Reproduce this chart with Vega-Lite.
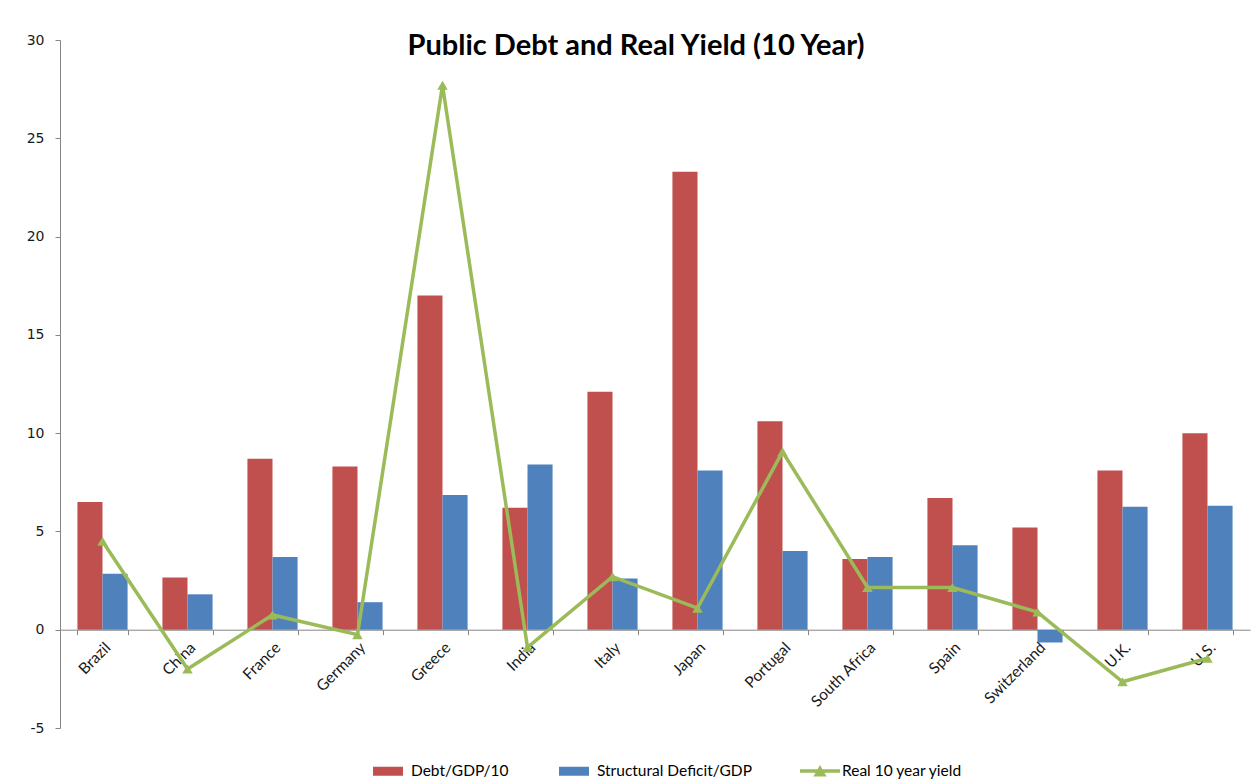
{
  "$schema": "https://vega.github.io/schema/vega-lite/v6.json",
  "width": 1190,
  "height": 688,
  "autosize": {"type": "none"},
  "padding": {"left": 60, "top": 40, "right": 1, "bottom": 55},
  "background": "white",
  "title": {"text": "Public Debt and Real Yield (10 Year)", "font": "Lato", "fontSize": 29, "fontWeight": "bold", "color": "#000000", "anchor": "middle", "offset": -51, "baseline": "alphabetic", "dx": -19},
  "config": {"view": {"stroke": null}},
  "datasets": {
    "bars": [
      {"country": "Brazil", "series": "Debt/GDP/10", "value": 6.5},
      {"country": "Brazil", "series": "Structural Deficit/GDP", "value": 2.85},
      {"country": "China", "series": "Debt/GDP/10", "value": 2.65},
      {"country": "China", "series": "Structural Deficit/GDP", "value": 1.8},
      {"country": "France", "series": "Debt/GDP/10", "value": 8.7},
      {"country": "France", "series": "Structural Deficit/GDP", "value": 3.7},
      {"country": "Germany", "series": "Debt/GDP/10", "value": 8.3},
      {"country": "Germany", "series": "Structural Deficit/GDP", "value": 1.4},
      {"country": "Greece", "series": "Debt/GDP/10", "value": 17.0},
      {"country": "Greece", "series": "Structural Deficit/GDP", "value": 6.85},
      {"country": "India", "series": "Debt/GDP/10", "value": 6.2},
      {"country": "India", "series": "Structural Deficit/GDP", "value": 8.4},
      {"country": "Italy", "series": "Debt/GDP/10", "value": 12.1},
      {"country": "Italy", "series": "Structural Deficit/GDP", "value": 2.6},
      {"country": "Japan", "series": "Debt/GDP/10", "value": 23.3},
      {"country": "Japan", "series": "Structural Deficit/GDP", "value": 8.1},
      {"country": "Portugal", "series": "Debt/GDP/10", "value": 10.6},
      {"country": "Portugal", "series": "Structural Deficit/GDP", "value": 4.0},
      {"country": "South Africa", "series": "Debt/GDP/10", "value": 3.6},
      {"country": "South Africa", "series": "Structural Deficit/GDP", "value": 3.7},
      {"country": "Spain", "series": "Debt/GDP/10", "value": 6.7},
      {"country": "Spain", "series": "Structural Deficit/GDP", "value": 4.3},
      {"country": "Switzerland", "series": "Debt/GDP/10", "value": 5.2},
      {"country": "Switzerland", "series": "Structural Deficit/GDP", "value": -0.65},
      {"country": "U.K.", "series": "Debt/GDP/10", "value": 8.1},
      {"country": "U.K.", "series": "Structural Deficit/GDP", "value": 6.25},
      {"country": "U.S.", "series": "Debt/GDP/10", "value": 10.0},
      {"country": "U.S.", "series": "Structural Deficit/GDP", "value": 6.3}
    ],
    "yield": [
      {"country": "Brazil", "value": 4.5},
      {"country": "China", "value": -2.0},
      {"country": "France", "value": 0.75},
      {"country": "Germany", "value": -0.25},
      {"country": "Greece", "value": 27.7},
      {"country": "India", "value": -0.9},
      {"country": "Italy", "value": 2.7},
      {"country": "Japan", "value": 1.1},
      {"country": "Portugal", "value": 9.05},
      {"country": "South Africa", "value": 2.15},
      {"country": "Spain", "value": 2.15},
      {"country": "Switzerland", "value": 0.9},
      {"country": "U.K.", "value": -2.65},
      {"country": "U.S.", "value": -1.45}
    ]
  },
  "layer": [
    {
      "data": {"name": "bars"},
      "mark": {"type": "bar"},
      "encoding": {
        "x": {"field": "country", "type": "nominal", "scale": {"paddingInner": 0.41, "paddingOuter": 0.205},
          "axis": {"orient": "bottom", "offset": -98.3, "title": null, "domainColor": "#868686", "tickColor": "#868686", "tickBand": "extent", "tickSize": 5, "labelAngle": -45, "labelFont": "Lato", "labelFontSize": 15.5, "labelColor": "#1a1a1a", "labelPadding": 5}},
        "xOffset": {"field": "series", "type": "nominal", "sort": ["Debt/GDP/10", "Structural Deficit/GDP"], "scale": {"paddingInner": 0, "paddingOuter": 0}},
        "y": {"field": "value", "type": "quantitative", "scale": {"domain": [-5, 30], "nice": false, "zero": false},
          "axis": {"title": null, "values": [-5, 0, 5, 10, 15, 20, 25, 30], "labelExpr": "datum.value < 0 ? '-' + abs(datum.value) : '' + datum.value", "grid": false, "domainColor": "#868686", "tickColor": "#868686", "tickSize": 5, "labelFont": "DejaVu Sans", "labelFontSize": 14, "labelColor": "#1a1a1a", "labelPadding": 11}},
        "color": {"field": "series", "type": "nominal", "scale": {"domain": ["Debt/GDP/10", "Structural Deficit/GDP"], "range": ["#C0504D", "#4F81BD"]},
          "legend": {"orient": "none", "legendX": 313, "legendY": 716, "direction": "horizontal", "title": null, "symbolType": "M-1,-0.3H1V0.3H-1Z", "symbolSize": 900, "symbolStrokeWidth": 0, "labelFont": "Lato", "labelFontSize": 15.5, "labelColor": "#000000", "labelOffset": 8, "columnPadding": 50}}
      }
    },
    {
      "data": {"name": "yield"},
      "mark": {"type": "line", "strokeWidth": 3.5},
      "encoding": {
        "x": {"field": "country", "type": "nominal"},
        "y": {"field": "value", "type": "quantitative"},
        "stroke": {"datum": "Real 10 year yield", "type": "nominal", "scale": {"range": ["#9BBB59"]},
          "legend": {"orient": "none", "legendX": 740, "legendY": 711, "direction": "horizontal", "title": null, "symbolType": "M-1,-0.09H1V0.09H-1Z M-0.33,0.28L0,-0.3L0.33,0.28Z", "symbolSize": 1600, "symbolFillColor": "#9BBB59", "symbolStrokeWidth": 0, "labelFont": "Lato", "labelFontSize": 15.5, "labelColor": "#000000", "labelOffset": 2}}
      }
    },
    {
      "data": {"name": "yield"},
      "mark": {"type": "point", "shape": "triangle-up", "filled": true, "size": 110, "color": "#9BBB59", "opacity": 1},
      "encoding": {
        "x": {"field": "country", "type": "nominal"},
        "y": {"field": "value", "type": "quantitative"}
      }
    }
  ]
}
